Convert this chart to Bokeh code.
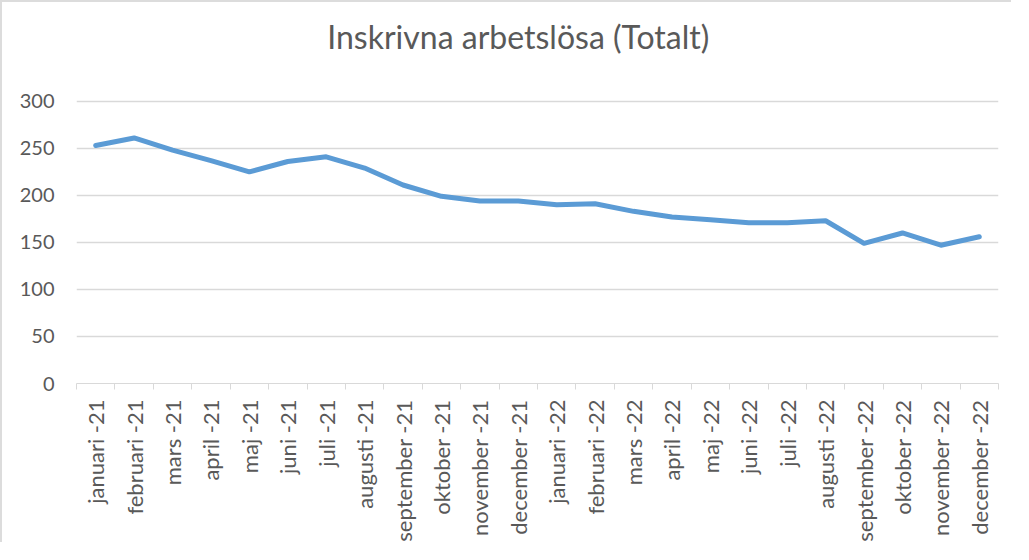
from bokeh.plotting import figure
from bokeh.models import Range1d, FixedTicker, Label
from bokeh.embed import file_html
from bokeh.resources import INLINE

months = ["januari", "februari", "mars", "april", "maj", "juni", "juli",
          "augusti", "september", "oktober", "november", "december"]
categories = [f"{m} -21" for m in months] + [f"{m} -22" for m in months]
values = [253, 261, 248, 237, 225, 236, 241, 229, 211, 199, 194, 194,
          190, 191, 183, 177, 174, 171, 171, 173, 149, 160, 147, 156]
y_ticks = [0, 50, 100, 150, 200, 250, 300]
title_text = "Inskrivna arbetslösa (Totalt)"

FONT = "Lato"
GRAY = "#595959"
GRID = "#d9d9d9"

x = list(range(len(categories)))

# The frame extends up to the top of the canvas so the title can sit inside it;
# the value axis still only shows 0..300.
p = figure(width=1011, height=542, output_backend="svg", toolbar_location=None,
           x_range=Range1d(-0.5, len(categories) - 0.5), y_range=Range1d(0, 405),
           min_border_left=74, min_border_right=15, min_border_top=0,
           min_border_bottom=160)
p.title = None
p.outline_line_color = None
p.styles = {"border-left": "2px solid #dcdcdc", "border-top": "2px solid #dcdcdc"}

p.line(x, values, line_color="#5b9bd5", line_width=5, line_join="round", line_cap="round")

p.add_layout(Label(x=11.0, y=369, text=title_text, text_align="center",
                   text_baseline="alphabetic", text_font=FONT,
                   text_font_size="32px", text_color=GRAY))

# y axis
p.yaxis.ticker = FixedTicker(ticks=y_ticks)
p.yaxis.axis_line_color = None
p.yaxis.major_tick_line_color = None
p.yaxis.minor_tick_line_color = None
p.yaxis.major_label_text_font = FONT
p.yaxis.major_label_text_font_size = "20px"
p.yaxis.major_label_text_color = GRAY
p.yaxis.major_label_standoff = 16

# x axis
p.xaxis.ticker = FixedTicker(ticks=x, minor_ticks=[i - 0.5 for i in range(len(categories) + 1)])
p.xaxis.major_label_overrides = {i: c for i, c in enumerate(categories)}
p.xaxis.major_label_orientation = 3.14159265 / 2
p.xaxis.axis_line_color = GRID
p.xaxis.major_tick_line_color = None
p.xaxis.minor_tick_line_color = GRID
p.xaxis.minor_tick_out = 6
p.xaxis.minor_tick_in = 0
p.xaxis.major_label_text_font = FONT
p.xaxis.major_label_text_font_size = "22px"
p.xaxis.major_label_text_color = GRAY
p.xaxis.major_label_standoff = 10

p.xgrid.grid_line_color = None
p.ygrid.grid_line_color = GRID
p.ygrid.grid_line_width = 1.5

open("out.html", "w").write(file_html(p, INLINE))
